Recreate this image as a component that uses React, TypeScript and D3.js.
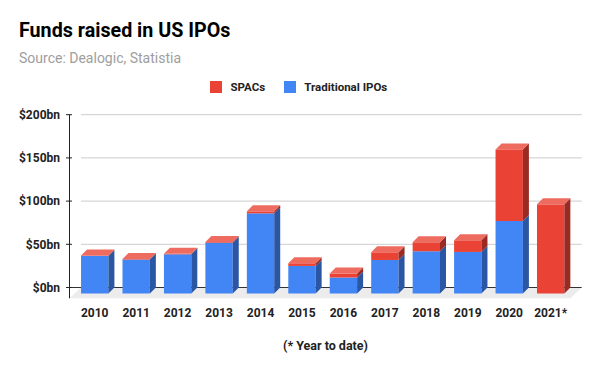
import React from 'react';
import * as d3 from 'd3';

const years = ['2010', '2011', '2012', '2013', '2014', '2015', '2016', '2017', '2018', '2019', '2020', '2021*'];
const traditional = [43.5, 39.3, 45.4, 58.8, 92.8, 31.9, 18.5, 38.8, 48.9, 48.1, 83.9, 0];
const spacs = [0.5, 0.6, 0.5, 0.8, 2.3, 3.1, 4.6, 8.9, 10.4, 13.5, 82.9, 103.2];
const yTicks = [0, 50, 100, 150, 200];

const FONT = 'Roboto, "Noto Sans", sans-serif';
const DEPTH = 6;

const colors = {
  blue: { front: '#4285f4', side: '#2b56a3', top: '#7baaf7' },
  red: { front: '#ea4335', side: '#992b23', top: '#ee6b5f' },
};

const App = () => {
  const width = 600;
  const height = 371;

  const x = d3.scaleBand<string>().domain(years).range([74, 571.4]).paddingInner(0.34).paddingOuter(0.17);
  // back-wall scale (gridlines); bar fronts are pushed down/left by DEPTH
  const y = d3.scaleLinear().domain([0, 200]).range([287.5, 114.7]);
  const gridLeft = 81;
  const gridRight = 581.7;
  const axisX = 69.5;
  const bw = x.bandwidth();

  const pts = (p: [number, number][]) => p.map((d) => d.join(',')).join(' ');

  const segment = (x0: number, v0: number, v1: number, c: { front: string; side: string; top: string }, isTop: boolean, key: string) => {
    if (v1 - v0 <= 0) return null;
    const yb = y(v0) + DEPTH;
    const yt = y(v1) + DEPTH;
    const x1 = x0 + bw;
    return (
      <g key={key}>
        <rect x={x0} y={yt} width={bw} height={yb - yt} fill={c.front} />
        <polygon points={pts([[x1, yb], [x1, yt], [x1 + DEPTH, yt - DEPTH], [x1 + DEPTH, yb - DEPTH]])} fill={c.side} />
        {isTop && (
          <polygon points={pts([[x0, yt], [x0 + DEPTH, yt - DEPTH], [x1 + DEPTH, yt - DEPTH], [x1, yt]])} fill={c.top} />
        )}
      </g>
    );
  };

  return (
    <svg
      width={width}
      height={height}
      style={{ position: 'absolute', left: 0, top: 0, background: '#fff' }}
      fontFamily={FONT}
    >
      <text x={19} y={37} fontSize={19.7} fontWeight="bold" fill="#000">Funds raised in US IPOs</text>
      <text x={19} y={63} fontSize={14} fill="#9e9e9e">Source: Dealogic, Statistia</text>

      {/* legend */}
      <rect x={210} y={81} width={12} height={12} fill={colors.red.front} />
      <text x={230.5} y={91} fontSize={11.5} fontWeight="bold" fill="#222">SPACs</text>
      <rect x={284} y={81} width={12} height={12} fill={colors.blue.front} />
      <text x={304.3} y={91} fontSize={11.5} fontWeight="bold" fill="#222">Traditional IPOs</text>

      {/* gridlines */}
      {yTicks.filter((t) => t > 0).map((t) => (
        <line key={t} x1={gridLeft} x2={gridRight} y1={y(t)} y2={y(t)} stroke="#cccccc" strokeWidth={1} />
      ))}

      {/* floor */}
      <polygon
        points={pts([[axisX, y(0) + 10.8], [gridLeft, y(0)], [gridRight, y(0)], [gridRight - 11.2, y(0) + 10.8]])}
        fill="#ececec"
      />
      <line x1={axisX} x2={gridRight} y1={y(0)} y2={y(0)} stroke="#333" strokeWidth={1} />

      {/* axis + ticks */}
      <line x1={axisX} x2={axisX} y1={y(200)} y2={y(0) + 10.8} stroke="#222" strokeWidth={1} />
      {yTicks.map((t) => (
        <g key={t}>
          <line x1={66} x2={72} y1={y(t)} y2={y(t)} stroke="#222" strokeWidth={1} />
          <text x={60} y={y(t)} dy="0.35em" textAnchor="end" fontSize={12} fontWeight="bold" fill="#222">
            ${t}bn
          </text>
        </g>
      ))}

      {/* bars */}
      {years.map((yr, i) => {
        const x0 = x(yr)!;
        const t = traditional[i];
        const s = spacs[i];
        return (
          <g key={yr}>
            {segment(x0, 0, t, colors.blue, s <= 0, 'b')}
            {segment(x0, t, t + s, colors.red, true, 'r')}
            <text x={x0 + bw / 2} y={316.5} textAnchor="middle" fontSize={12} fontWeight="bold" fill="#222">
              {yr}
            </text>
          </g>
        );
      })}

      <text x={325.5} y={349.5} textAnchor="middle" fontSize={12.5} fontWeight="bold" fill="#222">(* Year to date)</text>
    </svg>
  );
};

export default App;
